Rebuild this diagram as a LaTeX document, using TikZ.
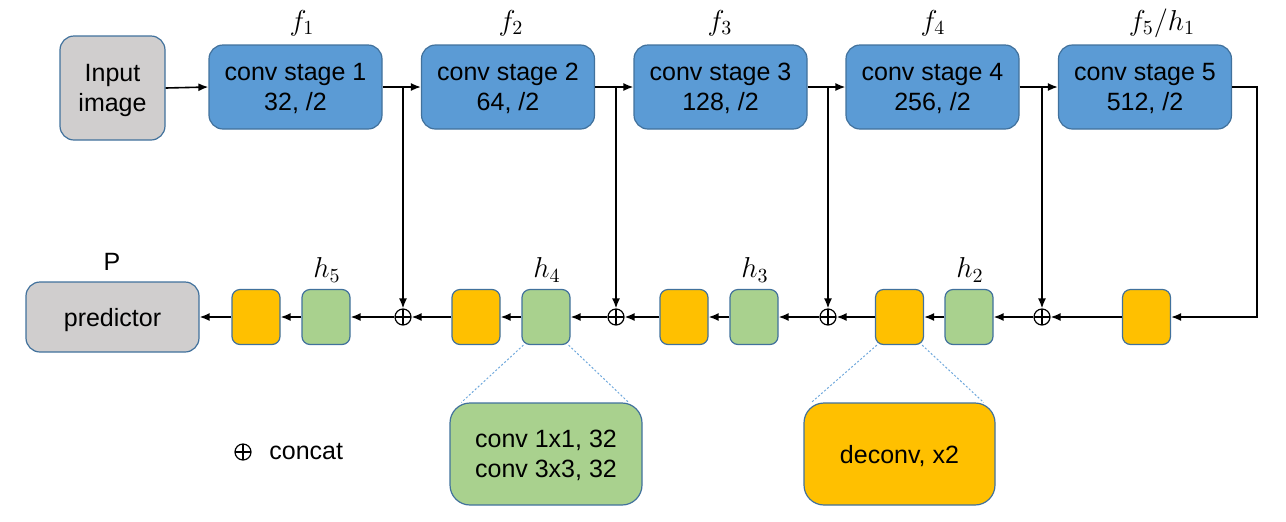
\documentclass[tikz,border=0pt]{standalone}
\usepackage{fontspec}
\setmainfont{Liberation Sans}
\usetikzlibrary{arrows.meta,positioning}
\definecolor{bluefill}{HTML}{5B9BD5}
\definecolor{edgeblue}{HTML}{41719C}
\definecolor{grayfill}{HTML}{D0CECE}
\definecolor{yellowfill}{HTML}{FFC000}
\definecolor{greenfill}{HTML}{A9D18E}
\definecolor{dotblue}{HTML}{6FA8DC}
\tikzset{
  base/.style={draw=edgeblue, line width=0.6pt, align=center, inner sep=0pt,
    font=\fontsize{12.5}{15}\selectfont, text depth=0pt},
  stagebox/.style={base, fill=bluefill, rounded corners=7pt, minimum width=86.5pt, minimum height=42pt},
  graybox/.style={base, fill=grayfill, rounded corners=7pt},
  ybox/.style={base, fill=yellowfill, rounded corners=4pt, minimum width=24pt, minimum height=27.5pt},
  gbox/.style={base, fill=greenfill, rounded corners=4pt, minimum width=24pt, minimum height=27.5pt},
  oplus/.style={circle, draw, line width=0.6pt, minimum size=8pt, inner sep=0pt,
    path picture={\draw[line width=0.6pt] (path picture bounding box.north) -- (path picture bounding box.south)
      (path picture bounding box.west) -- (path picture bounding box.east);}},
  arr/.style={line width=0.8pt, -{Latex[length=5pt,width=4pt]}},
  zoomln/.style={draw=dotblue, line width=0.5pt, dash pattern=on 1pt off 1pt},
  mlabel/.style={font=\fontsize{14.5}{16}\selectfont, inner sep=0pt},
  tlabel/.style={font=\fontsize{12.5}{15}\selectfont, inner sep=0pt}
}
\begin{document}
\begin{tikzpicture}[x=0.5pt,y=-0.5pt]
\useasboundingbox (0,0) rectangle (1286,521);
% top row
\node[graybox, minimum width=52.5pt, minimum height=52pt] (in) at (112.5,88) {Input\\image};
\node[stagebox] (s1) at (295.5,87) {conv stage 1\\32, /2};
\node[stagebox] (s2) at (508,87) {conv stage 2\\64, /2};
\node[stagebox] (s3) at (720.5,87) {conv stage 3\\128, /2};
\node[stagebox] (s4) at (932.5,87) {conv stage 4\\256, /2};
\node[stagebox] (s5) at (1145,87) {conv stage 5\\512, /2};
\node[mlabel] (lf1) at (302,23) {$f_1$};
\node[mlabel] (lf2) at (511,23) {$f_2$};
\node[mlabel] (lf3) at (720,23) {$f_3$};
\node[mlabel] (lf4) at (933,23) {$f_4$};
\node[mlabel] (lf5) at (1162,23) {$f_5/h_1$};
% branch points
\coordinate (b1) at (403,87);
\coordinate (b2) at (616,87);
\coordinate (b3) at (828,87);
\coordinate (b4) at (1042,87);
\coordinate (b5) at (1257,87);
% bottom row
\node[graybox, minimum width=86.5pt, minimum height=35pt] (pred) at (112.5,317) {predictor};
\node[tlabel] (lp) at (112,262) {P};
\node[ybox] (y5) at (256,317) {};
\node[gbox] (g5) at (326,317) {};
\node[oplus] (c1) at (403,317) {};
\node[ybox] (y4) at (476,317) {};
\node[gbox] (g4) at (546,317) {};
\node[oplus] (c2) at (616,317) {};
\node[ybox] (y3) at (684,317) {};
\node[gbox] (g3) at (754,317) {};
\node[oplus] (c3) at (828,317) {};
\node[ybox] (y2) at (899.5,317) {};
\node[gbox] (g2) at (969,317) {};
\node[oplus] (c4) at (1042,317) {};
\node[ybox] (y1) at (1146.5,317) {};
\node[mlabel] (lh5) at (327,270) {$h_5$};
\node[mlabel] (lh4) at (547,270) {$h_4$};
\node[mlabel] (lh3) at (755,270) {$h_3$};
\node[mlabel] (lh2) at (970,270) {$h_2$};
% connectors top
\draw[arr] (in.east) -- (s1.west);
\draw[arr] (s1.east) -- (s2.west);
\draw[arr] (s2.east) -- (s3.west);
\draw[arr] (s3.east) -- (s4.west);
\draw[arr] (s4.east) -- (s5.west);
\draw[arr] (b1) -- (c1.north);
\draw[arr] (b2) -- (c2.north);
\draw[arr] (b3) -- (c3.north);
\draw[arr] (b4) -- (c4.north);
\draw[arr] (s5.east) -- (b5) |- (y1.east);
% connectors bottom
\draw[arr] (y1.west) -- (c4.east);
\draw[arr] (c4.west) -- (g2.east);
\draw[arr] (g2.west) -- (y2.east);
\draw[arr] (y2.west) -- (c3.east);
\draw[arr] (c3.west) -- (g3.east);
\draw[arr] (g3.west) -- (y3.east);
\draw[arr] (y3.west) -- (c2.east);
\draw[arr] (c2.west) -- (g4.east);
\draw[arr] (g4.west) -- (y4.east);
\draw[arr] (y4.west) -- (c1.east);
\draw[arr] (c1.west) -- (g5.east);
\draw[arr] (g5.west) -- (y5.east);
\draw[arr] (y5.west) -- (pred.east);
% zoom boxes
\node[base, fill=greenfill, rounded corners=10pt, minimum width=96pt, minimum height=51pt] (bigg) at (546,454) {conv 1x1, 32\\conv 3x3, 32};
\node[base, fill=yellowfill, rounded corners=10pt, minimum width=95.5pt, minimum height=51pt] (bigy) at (899.5,454) {deconv, x2};
\draw[zoomln] ([xshift=1pt]g4.south west) -- ([xshift=6pt]bigg.north west);
\draw[zoomln] ([xshift=-1pt]g4.south east) -- ([xshift=-7pt]bigg.north east);
\draw[zoomln] ([xshift=1pt]y2.south west) -- ([xshift=4pt]bigy.north west);
\draw[zoomln] ([xshift=-1pt]y2.south east) -- ([xshift=-6pt]bigy.north east);
% legend
\node[oplus] (leg) at (243,452) {};
\node[tlabel, anchor=west] (legt) at (269,452) {concat};
\end{tikzpicture}
\end{document}
